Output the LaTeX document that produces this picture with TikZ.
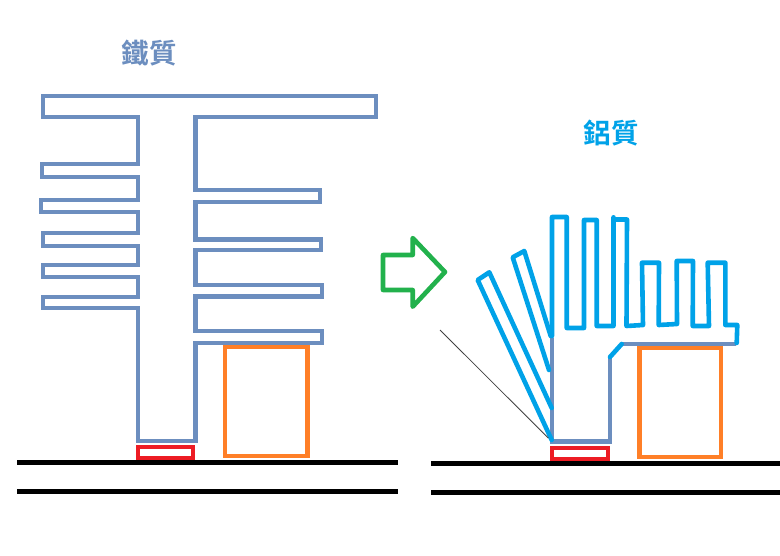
\documentclass[tikz,border=0pt]{standalone}
\usepackage{fontspec}
\newfontfamily\cjk{Noto Sans CJK TC}[BoldFont={* Bold}]
\definecolor{steel}{HTML}{6C8EBF}
\definecolor{alu}{HTML}{00A2E8}
\definecolor{pad}{HTML}{ED1C24}
\definecolor{chip}{HTML}{FF7F27}
\definecolor{flow}{HTML}{22B14C}
\tikzset{
  steelline/.style={draw=steel,line width=4.4pt,miter limit=10},
  aluline/.style={draw=alu,line width=4.6pt,line cap=round,line join=round},
  padbox/.style={draw=pad,line width=4.4pt},
  chipbox/.style={draw=chip,line width=4.4pt},
  board/.style={draw=black,line width=4.6pt},
  flowarrow/.style={draw=flow,line width=4.6pt,line join=round},
  title/.style={font=\cjk\bfseries\fontsize{27.5pt}{27.5pt}\selectfont,inner sep=0pt}
}
\begin{document}
\begin{tikzpicture}[x=1pt,y=-1pt]
\useasboundingbox (0,0) rectangle (780,555);
\node[title,text=steel] (t1) at (149,53) {鐵質};
\node[title,text=alu] (t2) at (611,133) {鋁質};
% left heat sink
\draw[steelline] (43,96) -- (376,96) -- (376,116.7) -- (195.5,116.7) -- (195.5,190) -- (320,190) -- (320,202) -- (195.5,202)
 -- (195.5,239.5) -- (321,239.5) -- (321,250) -- (195.5,250) -- (195.5,285) -- (322,285) -- (322,296.5) -- (195.5,296.5)
 -- (195.5,330.7) -- (322,330.7) -- (322,343) -- (195.5,343) -- (195.5,440.7) -- (137.7,440.7) -- (137.7,308)
 -- (43,308) -- (43,297) -- (137.7,297) -- (137.7,276.7) -- (43,276.7) -- (43,265) -- (137.7,265) -- (137.7,246)
 -- (43,246) -- (43,233) -- (137.7,233) -- (137.7,212) -- (41,212) -- (41,200) -- (137.7,200) -- (137.7,176.7)
 -- (42,176.7) -- (42,164) -- (137.7,164) -- (137.7,116.7) -- (43,116.7) -- cycle;
\draw[chipbox] (225,347) rectangle (307.5,456);
\draw[padbox] (137.7,447) rectangle (193,458.5);
\draw[board] (17,462.5) -- (397.7,462.5);
\draw[board] (17,491.7) -- (397.7,491.7);
% arrow
\draw[flowarrow] (383,255) -- (412.7,255) -- (412.7,238) -- (445,272) -- (412.7,306.7) -- (412.7,290) -- (383,290) -- cycle;
% right heat sink
\draw[steelline] (552,338) -- (552,441.3) -- (610,441.3) -- (610,357);
\draw[steelline] (621.7,344) -- (736,344);
\draw[aluline] (610,357) -- (621.7,344);
\draw[aluline] (552,336) -- (552,217) -- (566.7,217) -- (566.7,328) -- (584,328) -- (584,220) -- (596.7,220) -- (596.7,326)
 -- (613.5,326) -- (613.5,217.3) -- (613.5,219.5) -- (627,219.5) -- (626.5,326) -- (643,325) -- (642,262.7) -- (659,262.7) -- (658.7,325)
 -- (677,324) -- (676.7,261) -- (693,261) -- (692.7,326) -- (709,326) -- (707.7,262.7) -- (725.3,262.7) -- (725.3,325)
 -- (737.3,325) -- (736.7,343);
\draw[aluline] (550.7,336) -- (524.3,251) -- (512.7,257.3) -- (549,370);
\draw[aluline] (551.7,408) -- (489.3,272.3) -- (477.7,280) -- (551.7,440);
\draw[draw=black!75,line width=0.8pt] (440,330) -- (548.3,438);
\draw[chipbox] (639.3,347.7) rectangle (721,457);
\draw[padbox] (551.7,448) rectangle (607.7,459);
\draw[board] (431,463.3) -- (780,463.3);
\draw[board] (431,492.7) -- (780,492.7);
\end{tikzpicture}
\end{document}
